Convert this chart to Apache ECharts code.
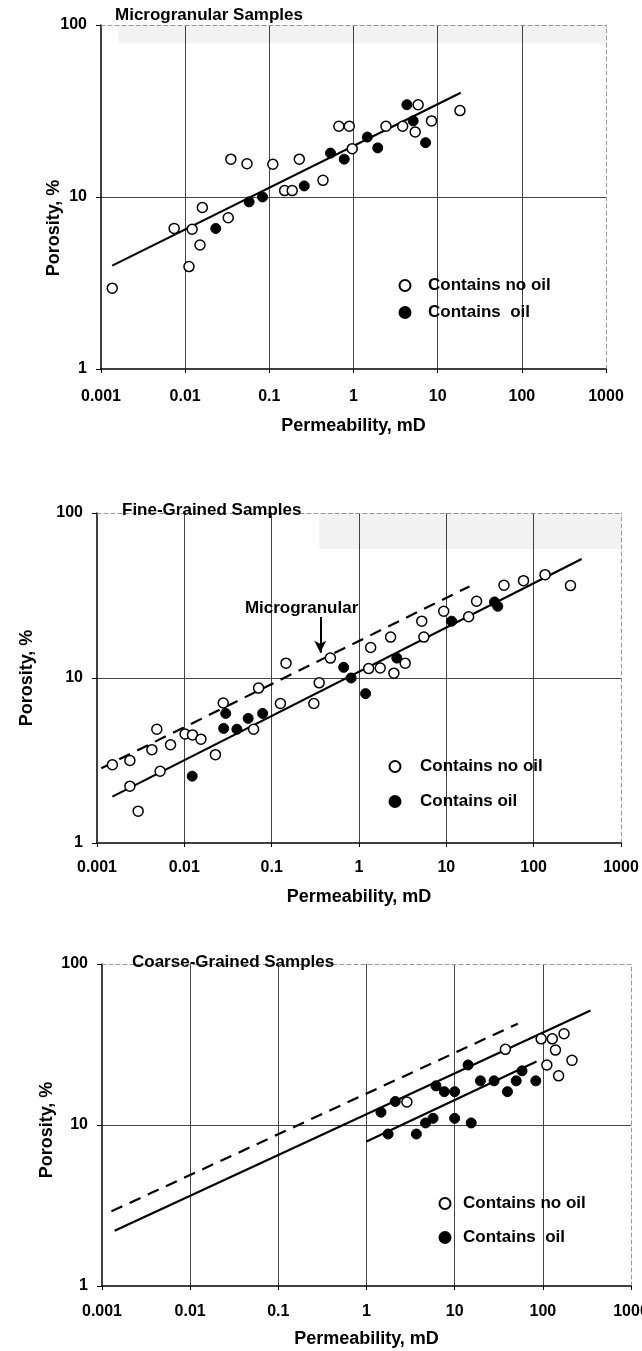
<!DOCTYPE html>
<html>
<head>
<meta charset="utf-8">
<title>Porosity vs Permeability</title>
<script src="https://cdn.jsdelivr.net/npm/echarts@6/dist/echarts.min.js"></script>
<style>
  html, body { margin: 0; padding: 0; background: #fff; }
  #chart { width: 642px; height: 1351px; }
</style>
</head>
<body>
<div id="chart"></div>
<script>
// tick labels
var xTickLabels = ['0.001', '0.01', '0.1', '1', '10', '100', '1000'];
var yTickLabels = ['1', '10', '100'];
var panelTitles = ['Microgranular Samples', 'Fine-Grained Samples', 'Coarse-Grained Samples'];

// --- Microgranular samples (permeability mD, porosity %)
var microNoOilK = [0.00136, 0.0074, 0.0121, 0.0111, 0.0150, 0.016, 0.0325, 0.0349, 0.0543, 0.110, 0.152, 0.187, 0.227, 0.434, 0.670, 0.891, 0.966, 2.43, 3.84, 5.86, 5.41, 8.45, 18.4];
var microNoOilPhi = [2.95, 6.57, 6.49, 3.94, 5.26, 8.69, 7.57, 16.6, 15.6, 15.5, 10.9, 10.9, 16.6, 12.5, 25.8, 25.8, 19.1, 25.8, 25.8, 34.4, 23.9, 27.7, 31.8];
var microOilK = [0.0231, 0.0575, 0.083, 0.260, 0.533, 0.776, 1.46, 1.94, 4.31, 5.12, 7.19];
var microOilPhi = [6.56, 9.37, 10.0, 11.6, 18.0, 16.6, 22.3, 19.3, 34.4, 27.7, 20.7];
var microFitK = [0.00136, 18.8];
var microFitPhi = [3.99, 40.4];

// --- Fine-grained samples
var fineNoOilK = [0.0015, 0.00238, 0.00238, 0.00296, 0.00425, 0.00484, 0.00528, 0.00695, 0.0102, 0.0124, 0.0155, 0.0227, 0.0279, 0.0621, 0.0708, 0.126, 0.146, 0.304, 0.350, 0.470, 1.29, 1.36, 1.75, 2.30, 2.51, 3.38, 5.23, 5.53, 9.33, 18.0, 22.2, 45.7, 76.5, 135, 264];
var fineNoOilPhi = [2.98, 3.16, 2.21, 1.56, 3.68, 4.89, 2.72, 3.94, 4.58, 4.52, 4.26, 3.43, 7.06, 4.89, 8.69, 7.00, 12.3, 7.00, 9.35, 13.2, 11.4, 15.3, 11.5, 17.7, 10.7, 12.3, 22.1, 17.7, 25.4, 23.5, 29.2, 36.5, 38.9, 42.3, 36.3];
var fineOilK = [0.0123, 0.0298, 0.0282, 0.040, 0.0538, 0.0789, 0.668, 0.813, 1.19, 2.71, 11.5, 35.6, 38.8];
var fineOilPhi = [2.54, 6.10, 4.95, 4.89, 5.69, 6.10, 11.6, 10.0, 8.04, 13.2, 22.1, 28.9, 27.2];
var fineFitK = [0.0015, 354];
var fineFitPhi = [1.91, 52.7];
var fineMicroRefK = [0.00112, 18.4];
var fineMicroRefPhi = [2.84, 35.9];
var noteK = [0.22];
var notePhi = [26.5];
var arrowK = [0.36, 0.36];
var arrowPhi = [23.4, 14.2];

// --- Coarse-grained samples
var coarseNoOilK = [2.87, 37.6, 95.7, 128, 174, 139, 111, 214, 151];
var coarseNoOilPhi = [13.9, 29.5, 34.3, 34.3, 36.9, 29.2, 23.6, 25.2, 20.2];
var coarseOilK = [1.46, 2.12, 1.76, 3.68, 4.68, 5.69, 6.14, 7.63, 10.0, 10.0, 15.4, 14.2, 19.6, 28.0, 39.7, 49.9, 58.1, 83.2];
var coarseOilPhi = [12.0, 14.0, 8.79, 8.79, 10.3, 11.0, 17.5, 16.1, 16.1, 11.0, 10.3, 23.6, 18.8, 18.8, 16.1, 18.8, 21.7, 18.8];
var coarseFitK = [0.00139, 348];
var coarseFitPhi = [2.20, 51.4];
var coarseOilFitK = [1.0, 84.9];
var coarseOilFitPhi = [7.89, 24.8];
var coarseMicroRefK = [0.00128, 52.1];
var coarseMicroRefPhi = [2.91, 42.6];

var FONT = "'Liberation Sans', Arial, Helvetica, sans-serif";
var INK = '#000';

function pts(k, phi) {
    return k.map(function (v, i) { return [v, phi[i]]; });
}

function xLabel(v) {
    return xTickLabels[Math.round(Math.log10(v)) + 3] || '';
}
function yLabel(v) {
    return yTickLabels[Math.round(Math.log10(v))] || '';
}

var grids = [
    { left: 101, top: 25, width: 505, height: 344, outerBoundsMode: 'none', containLabel: false },
    { left: 97, top: 513, width: 524, height: 330, outerBoundsMode: 'none', containLabel: false },
    { left: 102, top: 964, width: 529, height: 322, outerBoundsMode: 'none', containLabel: false }
];
var xLabelMargin = [20, 17, 18];
var xNameGap = [48, 45, 44];
var yNameGap = [38, 61, 46];
var yNameShift = [62, 0, 10];

var xAxes = [], yAxes = [];
grids.forEach(function (g, i) {
    xAxes.push({
        type: 'log', logBase: 10, min: 0.001, max: 1000, gridIndex: i,
        position: 'bottom',
        name: 'Permeability, mD', nameLocation: 'middle', nameGap: xNameGap[i], nameMoveOverlap: false,
        nameTextStyle: { fontFamily: FONT, fontWeight: 'bold', fontSize: 18, color: INK },
        axisLine: { lineStyle: { color: INK, width: 1.5 } },
        axisTick: { show: true, length: 4, lineStyle: { color: INK } },
        minorTick: { show: false },
        axisLabel: { formatter: xLabel, margin: xLabelMargin[i], fontFamily: FONT, fontWeight: 'bold', fontSize: 16, color: INK },
        splitLine: { show: true, showMinLine: false, showMaxLine: false, lineStyle: { color: '#444', width: 1 } }
    });
    yAxes.push({
        type: 'log', logBase: 10, min: 1, max: 100, gridIndex: i,
        position: 'left',
        name: 'Porosity, %', nameLocation: 'middle', nameGap: yNameGap[i], nameRotate: 90, nameMoveOverlap: false,
        nameTextStyle: { fontFamily: FONT, fontWeight: 'bold', fontSize: 18, color: INK, padding: [0, yNameShift[i], 0, 0] },
        axisLine: { lineStyle: { color: INK, width: 1.5 } },
        axisTick: { show: true, length: 5, lineStyle: { color: INK } },
        axisLabel: { formatter: yLabel, margin: 14, fontFamily: FONT, fontWeight: 'bold', fontSize: 16, color: INK },
        splitLine: { show: true, showMinLine: false, showMaxLine: false, lineStyle: { color: '#444', width: 1 } }
    });
});
// light dashed frame on top / right
grids.forEach(function (g, i) {
    xAxes.push({
        type: 'log', logBase: 10, min: 0.001, max: 1000, gridIndex: i, position: 'top',
        axisLine: { show: true, lineStyle: { color: '#999', width: 1, type: [4, 3] } },
        axisTick: { show: false }, axisLabel: { show: false }, splitLine: { show: false }
    });
    yAxes.push({
        type: 'log', logBase: 10, min: 1, max: 100, gridIndex: i, position: 'right',
        axisLine: { show: true, lineStyle: { color: '#999', width: 1, type: [4, 3] } },
        axisTick: { show: false }, axisLabel: { show: false }, splitLine: { show: false }
    });
});

var openStyle = { color: '#fff', borderColor: INK, borderWidth: 1.5, opacity: 1 };
var fillStyle = { color: INK, borderColor: INK, borderWidth: 1, opacity: 1 };

function scatter(name, idx, data, style) {
    return {
        name: name, type: 'scatter', xAxisIndex: idx, yAxisIndex: idx,
        symbol: 'circle', symbolSize: 10, itemStyle: style, data: data, z: 4, silent: true
    };
}
function fitLine(idx, data, dashed, extra) {
    var s = {
        type: 'line', xAxisIndex: idx, yAxisIndex: idx, data: data,
        symbol: 'none', silent: true, z: 3,
        lineStyle: { color: INK, width: 2.2, type: dashed ? [12, 8] : 'solid' }
    };
    if (extra) { for (var key in extra) s[key] = extra[key]; }
    return s;
}
function band(x0, y0) {
    return {
        silent: true,
        itemStyle: { color: 'rgba(0,0,0,0.05)' },
        data: [[{ coord: [x0, y0] }, { coord: [1000, 100] }]]
    };
}

// dashed "Microgranular" reference line carries the annotation and arrow
var microRefSeries = fitLine(1, pts(fineMicroRefK, fineMicroRefPhi), true, {
    markArea: band(0.35, 60.5),
    markPoint: {
        silent: true, animation: false,
        symbol: 'rect', symbolSize: 1, itemStyle: { color: 'rgba(0,0,0,0)' },
        label: { show: true, position: 'inside', formatter: 'Microgranular', fontFamily: FONT, fontWeight: 'bold', fontSize: 17, color: '#000', opacity: 1 },
        data: [{ coord: [noteK[0], notePhi[0]] }]
    },
    markLine: {
        silent: true, symbol: ['none', 'arrow'], symbolSize: [9, 12],
        label: { show: false },
        lineStyle: { color: INK, width: 2, type: 'solid' },
        data: [[{ coord: [arrowK[0], arrowPhi[0]] }, { coord: [arrowK[1], arrowPhi[1]] }]]
    }
});

var series = [
    // panel 1
    fitLine(0, pts(microFitK, microFitPhi), false, { markArea: band(0.0016, 78) }),
    scatter('Contains no oil', 0, pts(microNoOilK, microNoOilPhi), openStyle),
    scatter('Contains  oil', 0, pts(microOilK, microOilPhi), fillStyle),
    // panel 2
    microRefSeries,
    fitLine(1, pts(fineFitK, fineFitPhi), false),
    scatter('Contains no oil', 1, pts(fineNoOilK, fineNoOilPhi), openStyle),
    scatter('Contains oil', 1, pts(fineOilK, fineOilPhi), fillStyle),
    // panel 3
    fitLine(2, pts(coarseMicroRefK, coarseMicroRefPhi), true),
    fitLine(2, pts(coarseFitK, coarseFitPhi), false),
    fitLine(2, pts(coarseOilFitK, coarseOilFitPhi), false),
    scatter('Contains no oil', 2, pts(coarseNoOilK, coarseNoOilPhi), openStyle),
    scatter('Contains  oil', 2, pts(coarseOilK, coarseOilPhi), fillStyle)
];

function legend(names, iconX, rowY, rowGap, textGap) {
    var w = textGap * 2 - 10;
    return {
        orient: 'vertical', left: iconX - 5.5, top: rowY - 9,
        itemWidth: w, itemHeight: 11, itemGap: rowGap - 18,
        icon: 'circle', selectedMode: false, padding: 0,
        data: names,
        textStyle: { fontFamily: FONT, fontWeight: 'bold', fontSize: 17, color: INK }
    };
}

var titles = panelTitles.map(function (t, i) {
    var pos = [[115, 7], [122, 502], [132, 954]][i];
    return {
        text: t, left: pos[0], top: pos[1], padding: 0,
        textStyle: { fontFamily: FONT, fontWeight: 'bold', fontSize: 17, color: INK }
    };
});

var myChart = echarts.init(document.getElementById('chart'), null, { renderer: 'canvas' });
myChart.setOption({
    animation: false,
    backgroundColor: '#fff',
    title: titles,
    grid: grids,
    xAxis: xAxes,
    yAxis: yAxes,
    legend: [
        legend(['Contains no oil', 'Contains  oil'], 404, 286, 28, 23),
        legend(['Contains no oil', 'Contains oil'], 394, 767, 36, 25),
        legend(['Contains no oil', 'Contains  oil'], 444, 1204, 35, 18)
    ],
    series: series
});
</script>
</body>
</html>
